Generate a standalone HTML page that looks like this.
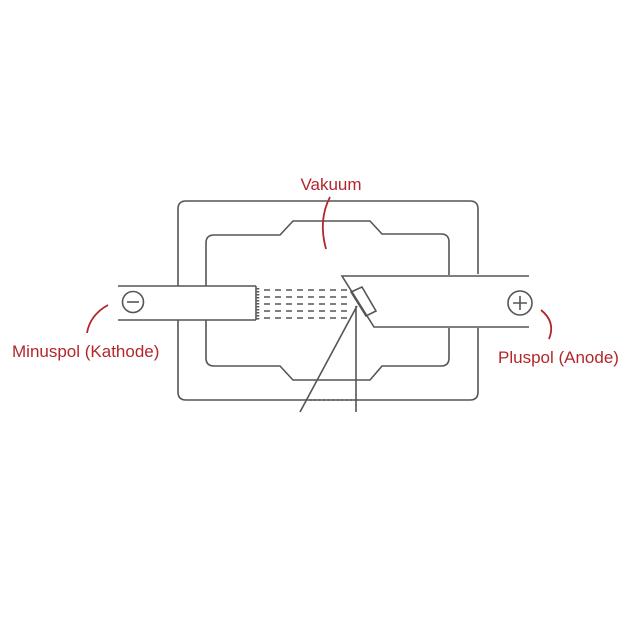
<!DOCTYPE html>
<html><head><style>
html,body{margin:0;padding:0;background:#fff;}
svg{display:block}
text{font-family:"Liberation Sans",Arial,sans-serif;font-size:17px;fill:#b3262b}
</style></head><body>
<svg width="640" height="640" viewBox="0 0 640 640">
<g fill="none" stroke="#555" stroke-width="1.6">
<path d="M178 286 V209 Q178 201 186 201 H470 Q478 201 478 209 V274"/>
<path d="M178 320 V392 Q178 400 186 400 H470 Q478 400 478 392 V328"/>
<path d="M206 286 V243 Q206 235 214 235 H280 L293 221 H370 L382 234 H441 Q449 234 449 242 V275"/>
<path d="M206 320 V358 Q206 366 214 366 H280 L293 380 H370 L382 366 H441 Q449 366 449 358 V328"/>
<path d="M118 286 H256 M118 320 H256 M256 286 V320"/>
<circle cx="133" cy="302" r="10.5"/>
<path d="M127 302 H139"/>
<path d="M529 276 H342 L374 327 H529"/>
<path d="M351 292 L362 287 L376 311 L366 316 Z"/>
<circle cx="520" cy="303" r="12"/>
<path d="M513 303 H527 M520 296 V310"/>
<path d="M357 306 L300 412 M356 306 V412"/>
<path d="M305 400 H356" stroke-dasharray="2 2.5"/>
<path d="M264 290 H350 M264 297 H350 M264 304 H350 M264 311 H350 M264 318 H350" stroke-dasharray="6 5"/>
<path d="M258 288 V320" stroke-dasharray="1.5 1.5" stroke-width="2.5"/>
</g>
<g fill="none" stroke="#b3262b" stroke-width="1.8">
<path d="M330 197 Q318 220 326 249"/>
<path d="M108 305 Q90 315 87 333"/>
<path d="M541 310 Q556 322 549 339"/>
</g>
<text x="331" y="190" text-anchor="middle">Vakuum</text>
<text x="12" y="357">Minuspol (Kathode)</text>
<text x="498" y="363">Pluspol (Anode)</text>
</svg>
</body></html>
